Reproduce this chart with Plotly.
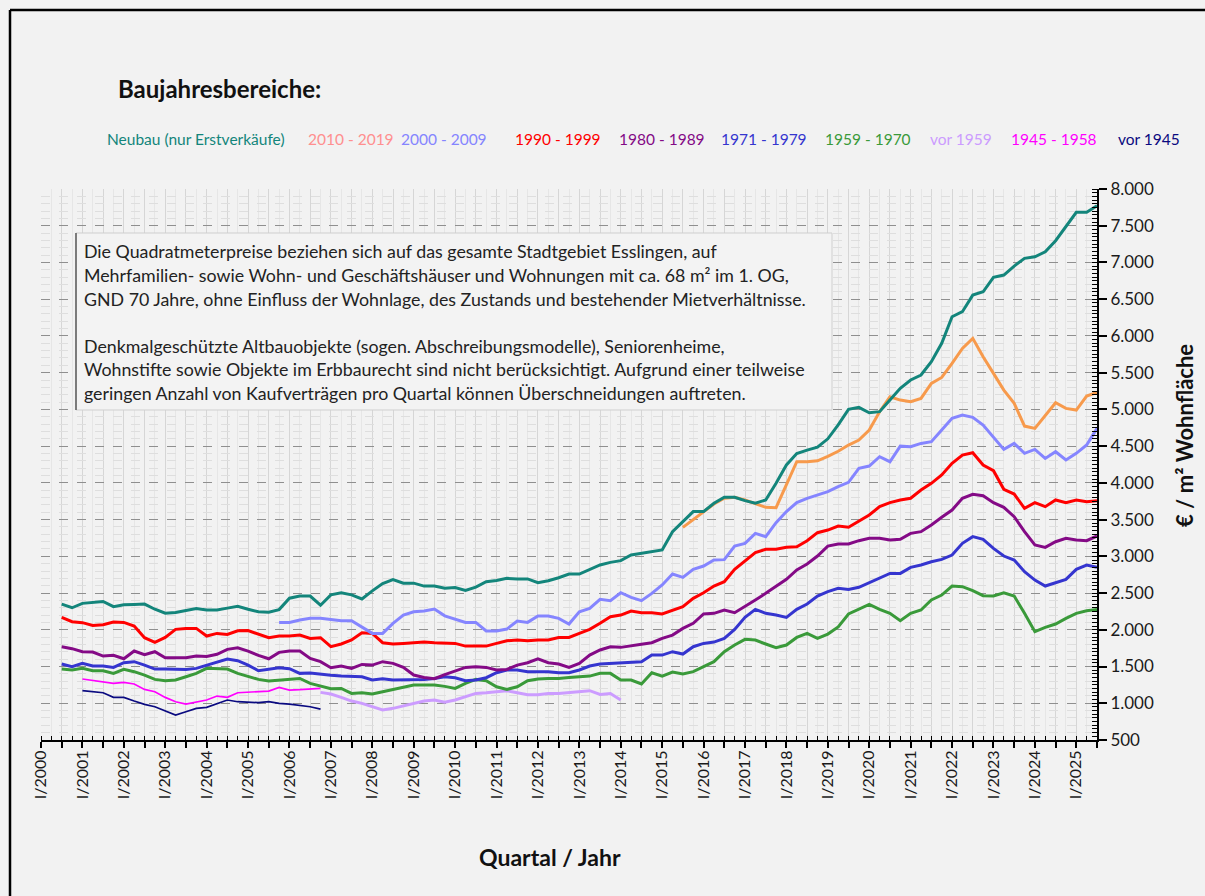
import plotly.graph_objects as go

# ---------------- data (€/m² Wohnfläche, quarterly) ----------------
ROMAN = ["I", "II", "III", "IV"]
quarters = [f"{r}/{y}" for y in range(2000, 2026) for r in ROMAN][:103]

series_names = ["Neubau (nur Erstverkäufe)", "2010 - 2019", "2000 - 2009", "1990 - 1999",
                "1980 - 1989", "1971 - 1979", "1959 - 1970", "vor 1959", "1945 - 1958", "vor 1945"]

neubau_start = "III/2000"
neubau = [2350, 2300,
          2360, 2375, 2385, 2315, 2340, 2345, 2350, 2280, 2225, 2235, 2265, 2290,
          2270, 2270, 2295, 2320, 2280, 2245, 2240, 2275, 2430, 2460, 2460, 2335,
          2475, 2505, 2475, 2420, 2530, 2630, 2685, 2635, 2635, 2595, 2595, 2565,
          2575, 2535, 2580, 2655, 2670, 2700, 2692, 2692, 2641, 2668, 2709, 2759,
          2759, 2823, 2882, 2918, 2941, 3018, 3041, 3064, 3087, 3336, 3472, 3609,
          3609, 3722, 3804, 3804, 3758, 3722, 3767, 3994, 4244, 4400, 4445, 4485,
          4600, 4790, 5001, 5028, 4955, 4969, 5127, 5287, 5400, 5468, 5649, 5899,
          6261, 6330, 6556, 6601, 6797, 6829, 6951, 7056, 7078, 7146, 7296, 7486,
          7682, 7682, 7772]

b2010_start = "III/2015"
b2010 = [3394, 3500,
         3594, 3712, 3790, 3803, 3767, 3722, 3667, 3662, 3970, 4288, 4288, 4300,
         4360, 4430, 4515, 4583, 4719, 4969, 5172, 5127, 5104, 5149, 5354, 5435,
         5626, 5831, 5967, 5717, 5490, 5263, 5082, 4773, 4742, 4923, 5091, 5014,
         4991, 5181, 5231]

b2000_start = "IV/2005"
b2000 = [2101,
         2101, 2133, 2156, 2156, 2142, 2124, 2124, 2042, 1951, 1951, 2088, 2201,
         2246, 2256, 2283, 2190, 2145, 2100, 2101, 1984, 1984, 2010, 2120, 2101,
         2188, 2188, 2156, 2079, 2246, 2292, 2414, 2396, 2505, 2442, 2396, 2496,
         2610, 2759, 2714, 2823, 2868, 2950, 2955, 3140, 3177, 3313, 3267, 3458,
         3609, 3731, 3790, 3835, 3880, 3950, 4007, 4198, 4229, 4356, 4288, 4500,
         4492, 4537, 4560, 4719, 4878, 4923, 4892, 4787, 4628, 4456, 4537, 4402,
         4456, 4333, 4424, 4311, 4402, 4515, 4742]

b1990_start = "III/2000"
b1990 = [2170, 2110,
         2097, 2060, 2069, 2106, 2101, 2051, 1892, 1828, 1896, 2006, 2019, 2019,
         1915, 1951, 1937, 1987, 1990, 1942, 1892, 1915, 1915, 1928, 1883, 1892,
         1770, 1807, 1861, 1960, 1951, 1824, 1807, 1815, 1829, 1833, 1824, 1820,
         1815, 1778, 1774, 1778, 1815, 1851, 1861, 1851, 1861, 1861, 1896, 1896,
         1951, 2006, 2088, 2178, 2201, 2256, 2233, 2233, 2215, 2260, 2315, 2428,
         2505, 2596, 2655, 2823, 2941, 3050, 3096, 3096, 3123, 3131, 3213, 3322,
         3358, 3413, 3395, 3485, 3563, 3676, 3731, 3767, 3790, 3903, 3994, 4107,
         4266, 4379, 4411, 4243, 4166, 3912, 3848, 3653, 3731, 3676, 3767, 3731,
         3767, 3744, 3758]

b1980_start = "III/2000"
b1980 = [1770, 1743,
         1702, 1697, 1643, 1652, 1606, 1711, 1661, 1702, 1620, 1620, 1620, 1643,
         1638, 1666, 1734, 1756, 1710, 1652, 1606, 1693, 1711, 1711, 1611, 1566,
         1484, 1507, 1475, 1529, 1520, 1566, 1543, 1488, 1384, 1352, 1334, 1390,
         1443, 1488, 1498, 1488, 1453, 1461, 1520, 1552, 1606, 1552, 1534, 1488,
         1543, 1656, 1725, 1770, 1761, 1778, 1802, 1824, 1883, 1928, 2019, 2088,
         2215, 2224, 2269, 2233, 2315, 2406, 2496, 2596, 2687, 2814, 2895, 3004,
         3140, 3168, 3168, 3213, 3245, 3245, 3222, 3231, 3313, 3336, 3426, 3531,
         3630, 3790, 3844, 3826, 3731, 3667, 3540, 3336, 3154, 3122, 3199, 3245,
         3222, 3213, 3277]

b1971_start = "III/2000"
b1971 = [1534, 1498,
         1543, 1507, 1507, 1488, 1552, 1566, 1520, 1466, 1466, 1466, 1461, 1475,
         1520, 1566, 1602, 1579, 1520, 1443, 1461, 1484, 1470, 1407, 1411, 1393,
         1380, 1370, 1370, 1361, 1316, 1334, 1316, 1316, 1316, 1325, 1338, 1361,
         1348, 1307, 1316, 1348, 1416, 1453, 1453, 1430, 1430, 1430, 1416, 1416,
         1453, 1507, 1534, 1543, 1543, 1552, 1566, 1656, 1656, 1702, 1670, 1770,
         1815, 1833, 1883, 2006, 2169, 2278, 2224, 2201, 2169, 2278, 2351, 2460,
         2519, 2564, 2550, 2578, 2641, 2700, 2768, 2768, 2850, 2882, 2927, 2959,
         3018, 3177, 3268, 3231, 3109, 3004, 2950, 2791, 2677, 2596, 2641, 2687,
         2823, 2882, 2850]

b1959_start = "III/2000"
b1959 = [1466, 1453,
         1475, 1443, 1443, 1407, 1461, 1430, 1384, 1325, 1307, 1316, 1361, 1407,
         1475, 1466, 1466, 1407, 1365, 1325, 1302, 1316, 1325, 1338, 1270, 1234,
         1198, 1202, 1134, 1143, 1125, 1157, 1189, 1225, 1248, 1248, 1248, 1230,
         1202, 1270, 1325, 1307, 1225, 1189, 1225, 1307, 1330, 1338, 1338, 1352,
         1361, 1370, 1407, 1407, 1316, 1316, 1262, 1416, 1370, 1425, 1398, 1430,
         1498, 1566, 1702, 1793, 1870, 1861, 1807, 1756, 1793, 1896, 1951, 1883,
         1942, 2040, 2215, 2278, 2347, 2278, 2224, 2124, 2224, 2269, 2406, 2473,
         2596, 2587, 2532, 2464, 2460, 2505, 2460, 2224, 1974, 2033, 2079, 2156,
         2224, 2260, 2278]

vor1959_start = "IV/2006"
vor1959 = [1148,
           1125, 1080, 1030, 998, 953, 908, 931, 962, 998, 1030, 1044, 1015,
           1044, 1089, 1134, 1143, 1157, 1171, 1143, 1116, 1116, 1134, 1134, 1143,
           1157, 1171, 1121, 1134, 1044]

b1945_start = "I/2001"
b1945 = [1330, 1307, 1289, 1270, 1284, 1262, 1189, 1157, 1080, 1021, 989, 1021,
         1044, 1098, 1080, 1143, 1150, 1150, 1166, 1216, 1180, 1185, 1189, 1203]

vor1945_start = "I/2001"
vor1945 = [1171, 1157, 1143, 1080, 1080, 1030, 985, 953, 899, 840, 885, 931,
           944, 989, 1044, 1021, 1012, 1008, 1021, 998, 989, 976, 953, 921]

y_tick_values = list(range(500, 8001, 500))

# ---------------- styling ----------------
line_colors = ["#13857b", "#f79a4c", "#8585ff", "#ff0000", "#840a86",
               "#3535cf", "#3a9a3a", "#cc9cff", "#ff00ff", "#0a0a80"]
label_colors = ["#13857b", "#ff8f8f", "#8585ff", "#ff0000", "#840a86",
                "#3535cf", "#3a9a3a", "#cc9cff", "#ff00ff", "#0a0a80"]
line_widths = [3, 3, 3, 3, 3, 3, 3, 3, 1.7, 1.7]
BG = "#f2f2f2"
FONT = "Lato"

series = [(neubau_start, neubau), (b2010_start, b2010), (b2000_start, b2000),
          (b1990_start, b1990), (b1980_start, b1980), (b1971_start, b1971),
          (b1959_start, b1959), (vor1959_start, vor1959), (b1945_start, b1945),
          (vor1945_start, vor1945)]


def qpos(label):
    r, y = label.split("/")
    return int(y) + ROMAN.index(r) / 4


fig = go.Figure()
order = [9, 8, 7, 6, 5, 4, 3, 2, 1, 0]
for i in order:
    start, vals = series[i]
    k = quarters.index(start)
    labels = quarters[k:k + len(vals)]
    fig.add_trace(go.Scatter(
        x=[qpos(l) for l in labels], y=vals, mode="lines", name=series_names[i],
        text=labels, hovertemplate="%{text}: %{y}<extra>" + series_names[i] + "</extra>",
        line=dict(color=line_colors[i], width=line_widths[i]), showlegend=False))

# x ticks: every half year, labelled each year
x_ticks = [2000 + 0.5 * k for k in range(52)]
x_text = [f"I/{int(v)}" if v == int(v) else "" for v in x_ticks]

# the page margin is removed (post_script), so the figure fills the window exactly
W, H = 1205, 896
PL, PR, PT, PB = 41, 1097, 189, 740          # plot area in window pixels
L, R, T, B = PL, W - PR, PT, H - PB
pw, ph = W - L - R, H - T - B


def px(xp):
    return (xp - PL) / pw


def py(yp):
    return (PB - yp) / ph


fig.update_layout(
    width=W, height=H, margin=dict(l=L, r=R, t=T, b=B, autoexpand=False),
    paper_bgcolor=BG, plot_bgcolor=BG, separators=",.",
    font=dict(family=FONT, color="#1a1a1a"),
    xaxis=dict(range=[2000, 2025.5], tickmode="array", tickvals=x_ticks, ticktext=x_text,
               tickangle=-90, ticks="outside", ticklen=6, tickwidth=1.5, tickcolor="#000",
               ticklabelstandoff=-4,
               showline=True, linecolor="#000", linewidth=2, zeroline=False,
               showgrid=True, gridcolor="#d6d6d6", gridwidth=1,
               tickfont=dict(size=16, family=FONT, color="#1a1a1a"),
               minor=dict(dtick=0.25, tick0=2000, ticks="inside", ticklen=4,
                          tickcolor="#000", tickwidth=1.2, showgrid=True,
                          gridcolor="#e6e6e6")),
    yaxis=dict(range=[500, 8000], side="right", tickmode="array", tickvals=y_tick_values,
               tickformat=",.0f", ticks="outside", ticklen=8, tickwidth=1.5, tickcolor="#000",
               showline=True, linecolor="#000", linewidth=2, zeroline=False,
               showgrid=True, gridcolor="#8f8f8f", griddash="dash", gridwidth=1,
               tickfont=dict(size=17, family=FONT, color="#1a1a1a"),
               minor=dict(dtick=50, tick0=500, ticks="inside", ticklen=5,
                          tickcolor="#000", tickwidth=1.2, showgrid=False)),
    yaxis2=dict(range=[500, 8000], overlaying="y", side="right", tickmode="array",
                tickvals=[v for v in range(600, 8000, 100) if v % 500],
                showticklabels=False, ticks="", showline=False, zeroline=False,
                showgrid=True, gridcolor="#dedede", griddash="dash", gridwidth=1),
)
# invisible helper trace so the fine grid of yaxis2 is drawn
fig.add_trace(go.Scatter(x=[2000], y=[500], yaxis="y2", mode="markers",
                         marker=dict(opacity=0), showlegend=False, hoverinfo="skip"))

# outer frame (top and left edges visible)
fig.add_shape(type="line", xref="paper", yref="paper", x0=px(10), x1=px(1215), y0=py(10), y1=py(10),
              line=dict(color="#000", width=2.5))
fig.add_shape(type="line", xref="paper", yref="paper", x0=px(10), x1=px(10), y0=py(10), y1=py(910),
              line=dict(color="#000", width=2.5))

# text box
fig.add_shape(type="rect", xref="paper", yref="paper", x0=px(76), x1=px(832), y0=py(410), y1=py(233),
              fillcolor="#f3f3f3", line=dict(color="#cfcfcf", width=1), layer="above")
fig.add_shape(type="line", xref="paper", yref="paper", x0=px(76), x1=px(76), y0=py(410), y1=py(233),
              line=dict(color="#5a5a5a", width=1.5), layer="above")

box_lines = [
    ("Die Quadratmeterpreise beziehen sich auf das gesamte Stadtgebiet Esslingen, auf", 251),
    ("Mehrfamilien- sowie Wohn- und Geschäftshäuser und Wohnungen mit ca. 68 m² im 1. OG,", 275),
    ("GND 70 Jahre, ohne Einfluss der Wohnlage, des Zustands und bestehender Mietverhältnisse.", 299),
    ("Denkmalgeschützte Altbauobjekte (sogen. Abschreibungsmodelle), Seniorenheime,", 346),
    ("Wohnstifte sowie Objekte im Erbbaurecht sind nicht berücksichtigt. Aufgrund einer teilweise", 369),
    ("geringen Anzahl von Kaufverträgen pro Quartal können Überschneidungen auftreten.", 393),
]
for txt, yy in box_lines:
    fig.add_annotation(text=txt, xref="paper", yref="paper", x=px(82), y=py(yy),
                       xanchor="left", yanchor="middle", showarrow=False,
                       font=dict(size=17.8, family=FONT, color="#222"))

# heading
fig.add_annotation(text="<b>Baujahresbereiche:</b>", xref="paper", yref="paper",
                   x=px(116), y=py(88), xanchor="left", yanchor="middle", showarrow=False,
                   font=dict(size=24, family=FONT, color="#111"))

# colour legend as text
legend_x = [196, 351, 444, 558, 662, 764, 868, 961, 1054, 1149]
for name, col, lx in zip(series_names, label_colors, legend_x):
    fig.add_annotation(text=name, xref="paper", yref="paper", x=px(lx), y=py(139),
                       xanchor="center", yanchor="middle", showarrow=False,
                       font=dict(size=15.5, family=FONT, color=col))

# axis titles
fig.add_annotation(text="<b>Quartal / Jahr</b>", xref="paper", yref="paper",
                   x=px(550), y=py(857), xanchor="center", yanchor="middle", showarrow=False,
                   font=dict(size=23, family=FONT, color="#111"))
fig.add_annotation(text="<b>€ / m² Wohnfläche</b>", xref="paper", yref="paper",
                   x=px(1184), y=py(436), xanchor="center", yanchor="middle", showarrow=False,
                   textangle=-90, font=dict(size=22, family=FONT, color="#111"))

fig.write_html("out.html",
               config={"displayModeBar": False},
               post_script="document.body.style.margin='0';"
                           "document.body.style.overflow='hidden';"
                           "document.body.style.background='" + BG + "';")
